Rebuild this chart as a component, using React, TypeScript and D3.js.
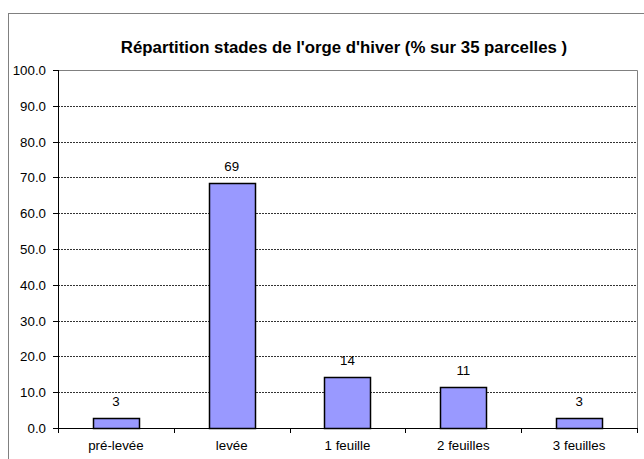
import React, { useEffect, useRef } from "react";
import * as d3 from "d3";

const categories = ["pré-levée", "levée", "1 feuille", "2 feuilles", "3 feuilles"];
const values = [2.86, 68.57, 14.29, 11.43, 2.86];
const labels = ["3", "69", "14", "11", "3"];
const yTicks = [0, 10, 20, 30, 40, 50, 60, 70, 80, 90, 100];
const title = "Répartition stades de l'orge d'hiver (% sur 35 parcelles )";

const App = () => {
  const svgRef = useRef<SVGSVGElement>(null);

  useEffect(() => {
    const svg = d3.select(svgRef.current);
    svg.selectAll("*").remove();

    const left = 58, right = 637, top = 70, bottom = 428;
    const font = "Arial, 'Liberation Sans', sans-serif";

    // outer chart frame
    svg.append("rect")
      .attr("x", 8.5).attr("y", 13.5)
      .attr("width", 700).attr("height", 500)
      .attr("fill", "#fff").attr("stroke", "#808080");

    svg.append("text")
      .attr("x", 344).attr("y", 53)
      .attr("text-anchor", "middle")
      .style("font-family", font)
      .style("font-size", "16.8px")
      .style("font-weight", "bold")
      .text(title);

    const x = d3.scaleBand().domain(categories).range([left, right]);
    const y = d3.scaleLinear().domain([0, 100]).range([bottom, top]);

    // grid
    svg.selectAll(".grid")
      .data(yTicks.filter((t) => t > 0 && t < 100))
      .join("line")
      .attr("x1", left).attr("x2", right)
      .attr("y1", (d) => Math.round(y(d)) + 0.5)
      .attr("y2", (d) => Math.round(y(d)) + 0.5)
      .attr("stroke", "#333")
      .attr("stroke-width", 1)
      .attr("stroke-dasharray", "2,1");

    // plot border (top/right)
    svg.append("path")
      .attr("d", `M${left},${top + 0.5}H${right + 0.5}V${bottom}`)
      .attr("fill", "none")
      .attr("stroke", "#808080");

    // bars
    const bw = x.bandwidth() * 0.4;
    svg.selectAll(".bar")
      .data(values)
      .join("rect")
      .attr("x", (d, i) => Math.round(x(categories[i])! + (x.bandwidth() - bw) / 2) + 0.5)
      .attr("y", (d) => Math.round(y(d)) + 0.5)
      .attr("width", Math.round(bw))
      .attr("height", (d) => Math.round(bottom - y(d)))
      .attr("fill", "#9999FF")
      .attr("stroke", "#000")
      .attr("stroke-width", 1.5);

    svg.selectAll(".vlabel")
      .data(values)
      .join("text")
      .attr("x", (d, i) => x(categories[i])! + x.bandwidth() / 2)
      .attr("y", (d) => y(d) - 12)
      .attr("text-anchor", "middle")
      .style("font-family", font)
      .style("font-size", "13.3px")
      .attr("fill", "#000")
      .text((d, i) => labels[i]);

    // axes
    svg.append("line")
      .attr("x1", left + 0.5).attr("x2", left + 0.5)
      .attr("y1", top).attr("y2", bottom)
      .attr("stroke", "#000");
    svg.append("line")
      .attr("x1", left).attr("x2", right + 1)
      .attr("y1", bottom + 0.5).attr("y2", bottom + 0.5)
      .attr("stroke", "#000");

    svg.selectAll(".ytick")
      .data(yTicks)
      .join("line")
      .attr("x1", left - 5).attr("x2", left)
      .attr("y1", (d) => Math.round(y(d)) + 0.5)
      .attr("y2", (d) => Math.round(y(d)) + 0.5)
      .attr("stroke", "#000");

    svg.selectAll(".ylabel")
      .data(yTicks)
      .join("text")
      .attr("x", left - 12)
      .attr("y", (d) => y(d) + 5)
      .attr("text-anchor", "end")
      .style("font-family", font)
      .style("font-size", "13.3px")
      .text((d) => d.toFixed(1));

    const bounds = categories.map((c) => x(c)!).concat([right]);
    svg.selectAll(".xtick")
      .data(bounds)
      .join("line")
      .attr("x1", (d) => Math.round(d) + 0.5)
      .attr("x2", (d) => Math.round(d) + 0.5)
      .attr("y1", bottom).attr("y2", bottom + 5)
      .attr("stroke", "#000");

    svg.selectAll(".xlabel")
      .data(categories)
      .join("text")
      .attr("x", (d) => x(d)! + x.bandwidth() / 2)
      .attr("y", bottom + 22)
      .attr("text-anchor", "middle")
      .style("font-family", font)
      .style("font-size", "13.3px")
      .text((d) => d);
  }, []);

  return (
    <svg
      ref={svgRef}
      width={644}
      height={459}
      style={{ position: "absolute", left: 0, top: 0, background: "#fff" }}
    />
  );
};

export default App;
